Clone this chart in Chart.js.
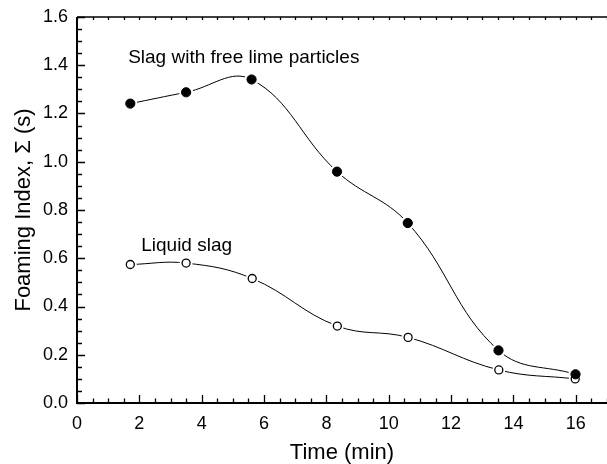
<!DOCTYPE html>
<html>
<head>
<meta charset="utf-8">
<script src="https://cdn.jsdelivr.net/npm/chart.js@4/dist/chart.umd.min.js"></script>
<style>
html,body{margin:0;padding:0;background:#fff;}
canvas{display:block;}
</style>
</head>
<body>
<canvas id="c" width="607" height="464"></canvas>
<script>
// ---- data ----
const timeFree   = [1.71, 3.50, 5.60, 8.34, 10.61, 13.52, 15.99];
const foamFree   = [1.241, 1.288, 1.341, 0.959, 0.746, 0.218, 0.119];
const timeLiquid = [1.71, 3.50, 5.62, 8.35, 10.62, 13.53, 15.98];
const foamLiquid = [0.574, 0.580, 0.516, 0.319, 0.272, 0.137, 0.100];

const xTickValues = [0, 2, 4, 6, 8, 10, 12, 14, 16];
const yTickValues = [0, 0.2, 0.4, 0.6, 0.8, 1.0, 1.2, 1.4, 1.6];

const seriesNames = ["Slag with free lime particles", "Liquid slag"];
// annotation anchor positions (data units): [x, y]
const labelFree   = [1.64, 1.41];
const labelLiquid = [2.06, 0.629];

const xTitle = "Time (min)";
const yTitle = "Foaming Index, \u03A3 (s)";

const FONT = "'Liberation Sans', Arial, Helvetica, sans-serif";

function pts(xs, ys){ return xs.map((x,i)=>({x:x, y:ys[i]})); }

const framePlugin = {
  id: 'frame',
  afterDatasetsDraw(chart){
    const ctx = chart.ctx, a = chart.chartArea;
    const xs = chart.scales.x, ys = chart.scales.y;
    ctx.save();
    ctx.strokeStyle = '#000';
    // axis lines
    ctx.lineWidth = 2;
    ctx.beginPath();
    ctx.moveTo(a.left, a.top); ctx.lineTo(a.left, a.bottom);
    ctx.moveTo(a.left - 1, a.bottom); ctx.lineTo(a.right, a.bottom);
    ctx.stroke();
    ctx.lineWidth = 1.6;
    ctx.beginPath();
    ctx.moveTo(a.left, a.top); ctx.lineTo(a.right, a.top);
    ctx.stroke();
    // ticks
    ctx.lineWidth = 1.3;
    ctx.beginPath();
    for (let v = 0; v <= 17.001; v += 0.5) {
      const px = Math.round(xs.getPixelForValue(v)) + 0.5;
      const major = Math.abs(v / 2 - Math.round(v / 2)) < 1e-6;
      const len = major ? 8 : 4.5;
      ctx.moveTo(px, a.bottom); ctx.lineTo(px, a.bottom - len);
      ctx.moveTo(px, a.top); ctx.lineTo(px, a.top + 3);
    }
    for (let k = 0; k <= 32; k++) {
      const v = k * 0.05;
      const py = Math.round(ys.getPixelForValue(v)) + 0.5;
      const major = k % 4 === 0;
      const len = major ? 8 : 5;
      ctx.moveTo(a.left, py); ctx.lineTo(a.left + len, py);
    }
    ctx.stroke();
    // series annotations
    ctx.fillStyle = '#000';
    ctx.font = "19px " + FONT;
    ctx.textAlign = 'left';
    ctx.textBaseline = 'alphabetic';
    ctx.fillText(seriesNames[0], xs.getPixelForValue(labelFree[0]), ys.getPixelForValue(labelFree[1]));
    ctx.fillText(seriesNames[1], xs.getPixelForValue(labelLiquid[0]), ys.getPixelForValue(labelLiquid[1]));
    ctx.restore();
  }
};

new Chart(document.getElementById('c'), {
  type: 'scatter',
  data: {
    datasets: [
      { label: 'free-line', data: pts(timeFree, foamFree), showLine: true, tension: 0.4,
        borderColor: '#000', borderWidth: 1, pointRadius: 0, order: 3 },
      { label: 'liquid-line', data: pts(timeLiquid, foamLiquid), showLine: true, tension: 0.4,
        borderColor: '#000', borderWidth: 1, pointRadius: 0, order: 3 },
      { label: 'free-halo', data: pts(timeFree, foamFree), showLine: false,
        pointRadius: 7, pointBackgroundColor: '#fff', pointBorderWidth: 0, pointBorderColor: '#fff', order: 2 },
      { label: 'liquid-halo', data: pts(timeLiquid, foamLiquid), showLine: false,
        pointRadius: 6.5, pointBackgroundColor: '#fff', pointBorderWidth: 0, pointBorderColor: '#fff', order: 2 },
      { label: seriesNames[1], data: pts(timeLiquid, foamLiquid), showLine: false,
        pointRadius: 4, pointBackgroundColor: '#fff', pointBorderColor: '#000', pointBorderWidth: 1.3, order: 1 },
      { label: seriesNames[0], data: pts(timeFree, foamFree), showLine: false,
        pointRadius: 4.6, pointBackgroundColor: '#000', pointBorderColor: '#000', pointBorderWidth: 1, order: 0 }
    ]
  },
  options: {
    responsive: false,
    animation: false,
    devicePixelRatio: 1,
    layout: { autoPadding: false, padding: { top: 17, right: 0, left: 0, bottom: 0 } },
    plugins: { legend: { display: false }, tooltip: { enabled: false } },
    elements: { line: { capBezierPoints: true } },
    scales: {
      x: {
        type: 'linear', min: 0, max: 17,
        grid: { display: false, drawTicks: false },
        border: { display: false },
        afterBuildTicks: s => { s.ticks = xTickValues.map(v => ({ value: v })); },
        ticks: {
          padding: 10, color: '#000', maxRotation: 0, autoSkip: false,
          font: { family: FONT, size: 18 },
          callback: v => String(v)
        },
        title: { display: true, text: xTitle, color: '#000',
                 font: { family: FONT, size: 22, lineHeight: 1 }, padding: { top: 0, bottom: 0 } },
        afterFit: s => { s.height = 61; s.paddingLeft = 0; s.paddingRight = 0; }
      },
      y: {
        type: 'linear', min: 0, max: 1.6,
        grid: { display: false, drawTicks: false },
        border: { display: false },
        afterBuildTicks: s => { s.ticks = yTickValues.map(v => ({ value: v })); },
        ticks: {
          padding: 9, color: '#000', autoSkip: false,
          font: { family: FONT, size: 18 },
          callback: v => Number(v).toFixed(1)
        },
        title: { display: true, text: yTitle, color: '#000',
                 font: { family: FONT, size: 22, lineHeight: 1 }, padding: { top: 13, bottom: 0 } },
        afterFit: s => { s.width = 77; s.paddingTop = 0; s.paddingBottom = 0; }
      }
    }
  },
  plugins: [framePlugin]
});
</script>
</body>
</html>
